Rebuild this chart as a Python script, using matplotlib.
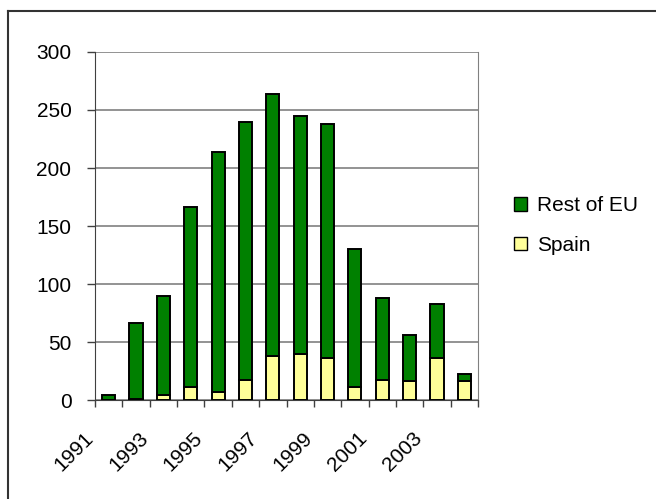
import numpy as np
import matplotlib.pyplot as plt
import matplotlib.transforms as mtransforms
from matplotlib.lines import Line2D
from matplotlib.patches import Patch

plt.rcParams['font.family'] = ['Liberation Sans', 'DejaVu Sans']

years = np.arange(1991, 2005)
spain = [0, 1, 4, 11, 7, 17, 38, 40, 36, 11, 17, 16, 36, 16]
total = [4, 66, 90, 166, 214, 240, 264, 245, 238, 130, 88, 56, 83, 22]
rest_eu = [t - s for t, s in zip(total, spain)]

fig = plt.figure(figsize=(6.56, 4.99), dpi=100)
ax = fig.add_axes([95/656, 1-400/499, (478-95)/656, (400-52)/499])

x = np.arange(len(years))
b1 = ax.bar(x, spain, width=0.48, color='#FFFF99', edgecolor='black', linewidth=1.4, zorder=3)
b2 = ax.bar(x, rest_eu, bottom=spain, width=0.48, color='#008000', edgecolor='black', linewidth=1.4, zorder=3)

ax.set_xlim(-0.5, len(years)-0.5)
ax.set_ylim(0, 300)
ax.set_yticks(range(0, 301, 50))
ax.yaxis.grid(True, color='#808080', linewidth=1.2, zorder=0)
ax.spines['top'].set_visible(False)
ax.spines['right'].set_color('#808080')
ax.spines['left'].set_color('#404040')
ax.spines['bottom'].set_color('#404040')
ax.tick_params(axis='y', direction='out', length=6, width=1, color='#404040', labelsize=15, pad=11)

ax.set_xticks(x[::2])
ax.set_xticklabels([str(y) for y in years[::2]], rotation=45, ha='right', rotation_mode='anchor', fontsize=15)
ax.set_xticks(np.arange(-0.5, len(years), 1), minor=True)
ax.tick_params(axis='x', which='major', length=0, pad=12)
ax.tick_params(axis='x', which='minor', direction='out', length=5, width=1, color='#404040')

# shift rotated year labels down-left like the original
shift = mtransforms.ScaledTranslation(-0.25, -0.12, fig.dpi_scale_trans)
for lab in ax.get_xticklabels():
    lab.set_transform(lab.get_transform() + shift)

handles = [Patch(facecolor='#008000', edgecolor='black'), Patch(facecolor='#FFFF99', edgecolor='black')]
fig.legend(handles, ['Rest of EU', 'Spain'], loc='upper left', bbox_to_anchor=(506/656, 1-188/499),
           frameon=False, fontsize=15, handlelength=0.6, handleheight=0.6, handletextpad=0.5,
           labelspacing=1.0, borderaxespad=0)

# outer frame
fig.add_artist(Line2D([8/656, 8/656], [0, 1-11/499], color='#333333', linewidth=1.5))
fig.add_artist(Line2D([8/656, 1], [1-11/499, 1-11/499], color='#333333', linewidth=1.5))

plt.savefig('out.png', dpi=100)
